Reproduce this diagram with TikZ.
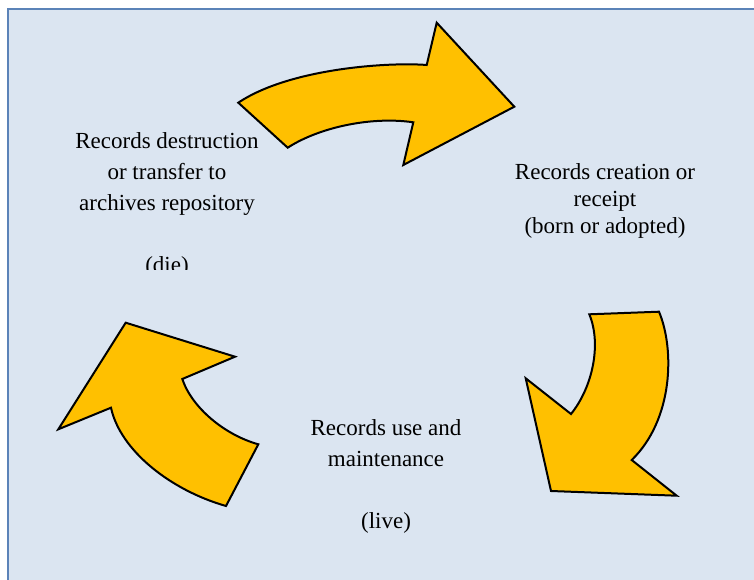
\documentclass[tikz,border=0pt]{standalone}
\usepackage{fontspec}
\setmainfont{Liberation Serif}
\usetikzlibrary{positioning}

\definecolor{panelfill}{HTML}{DBE5F1}
\definecolor{panelline}{HTML}{5B83B8}
\definecolor{arrowyellow}{HTML}{FFC000}

\begin{document}
\begin{tikzpicture}[x=1pt,y=-1pt,
    bigarrow/.style={fill=arrowyellow,draw=black,line width=2pt,line join=miter},
    stage/.style={align=center,text=black,inner sep=0pt},
    loose/.style={font=\fontsize{23}{31}\selectfont},
    tight/.style={font=\fontsize{23}{27}\selectfont}]
    \useasboundingbox (0,0) rectangle (754,580);
    \fill[white] (0,0) rectangle (754,580);
    \draw[panelline,fill=panelfill,line width=2pt] (8,9) rectangle (760,590);

    % top arrow: destruction -> creation
    \draw[bigarrow] (238.3,102.7) -- (287.7,147.7)
      .. controls (318,128) and (370,116) .. (413.3,122.3)
      -- (403.3,165) -- (514.3,106.7) -- (436.7,22.7) -- (426.7,65)
      .. controls (390,62) and (290,68) .. cycle;

    % right arrow: creation -> use
    \draw[bigarrow] (589.3,314.3) -- (659,311.7)
      .. controls (675,350) and (673,420) .. (631.7,460)
      -- (676.7,495.7) -- (551,491) -- (525.7,378.3) -- (571,414)
      .. controls (592,388) and (602,345) .. cycle;

    % left arrow: use -> destruction
    \draw[bigarrow] (258.3,444.3) -- (226,506)
      .. controls (170,490) and (120,450) .. (111,407.7)
      -- (58.3,429.3) -- (125.7,322.7) -- (235,356.7) -- (182.3,379)
      .. controls (192,408) and (225,435) .. cycle;

    \node[stage,tight] (create) at (605,201) {Records creation or\\receipt\\(born or adopted)};
    \node[stage,loose] (maintain) at (386,476) {Records use and\\maintenance\\[31pt](live)};
    \begin{scope}
      \clip (0,0) rectangle (754,269);
      \node[stage,loose] (destroy) at (167,205) {Records destruction\\or transfer to\\archives repository\\[31pt](die)};
    \end{scope}
\end{tikzpicture}
\end{document}
